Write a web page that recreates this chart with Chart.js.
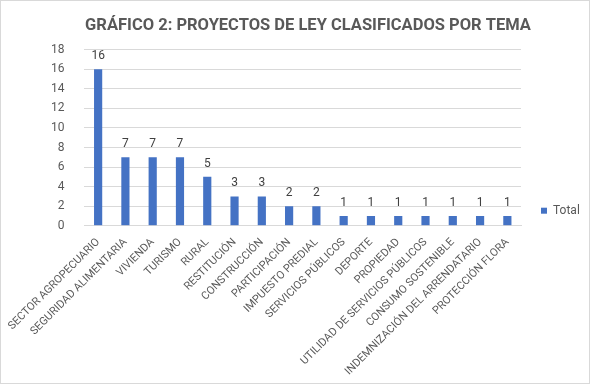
<!DOCTYPE html>
<html>
<head>
<meta charset="utf-8">
<script src="https://cdn.jsdelivr.net/npm/chart.js@4.4.0/dist/chart.umd.min.js"></script>
<style>
  html, body { margin: 0; padding: 0; background: #fff; }
  #box { width: 590px; height: 384px; box-sizing: border-box; border: 1px solid #d9d9d9; position: relative; }
</style>
</head>
<body>
<div id="box"><canvas id="myChart"></canvas></div>
<script>
const categories = [
  "SECTOR AGROPECUARIO", "SEGURIDAD ALIMENTARIA", "VIVIENDA", "TURISMO", "RURAL",
  "RESTITUCIÓN", "CONSTRUCCIÓN", "PARTICIPACIÓN", "IMPUESTO PREDIAL", "SERVICIOS PÚBLICOS",
  "DEPORTE", "PROPIEDAD", "UTILIDAD DE SERVICIOS PÚBLICOS", "CONSUMO SOSTENIBLE",
  "INDEMNIZACIÓN DEL ARRENDATARIO", "PROTECCIÓN FLORA"
];
const totals = [16, 7, 7, 7, 5, 3, 3, 2, 2, 1, 1, 1, 1, 1, 1, 1];
const yTicks = [0, 2, 4, 6, 8, 10, 12, 14, 16, 18];

const FONT = "Roboto, sans-serif";

// value labels above each bar
const barValues = {
  id: 'barValues',
  afterDatasetsDraw(chart) {
    const ctx = chart.ctx;
    const meta = chart.getDatasetMeta(0);
    ctx.save();
    ctx.font = "12px " + FONT;
    ctx.fillStyle = "#404040";
    ctx.textAlign = "center";
    ctx.textBaseline = "bottom";
    meta.data.forEach((bar, i) => {
      ctx.fillText(totals[i], bar.x, bar.y - 7);
    });
    ctx.restore();
  }
};

const ctx = document.getElementById('myChart');
new Chart(ctx, {
  type: 'bar',
  data: {
    labels: categories,
    datasets: [{
      label: 'Total',
      data: totals,
      backgroundColor: '#4472c4',
      categoryPercentage: 1,
      barPercentage: 0.3
    }]
  },
  options: {
    responsive: true,
    maintainAspectRatio: false,
    animation: false,
    layout: { padding: { left: 30, right: 4, top: 0, bottom: 3 } },
    plugins: {
      title: {
        display: true,
        text: 'GRÁFICO 2: PROYECTOS DE LEY CLASIFICADOS POR TEMA',
        color: '#595959',
        font: { family: FONT, size: 16.5, weight: 'bold' },
        padding: { top: 15, bottom: 14 }
      },
      legend: {
        position: 'right',
        align: 'center',
        maxWidth: 64,
        title: { display: true, text: '', padding: 13, font: { size: 12 } },
        labels: {
          boxWidth: 6, boxHeight: 6,
          color: '#595959',
          font: { family: FONT, size: 12 },
          padding: 20
        }
      },
      tooltip: { enabled: false }
    },
    scales: {
      x: {
        grid: { display: false },
        border: { color: '#d9d9d9' },
        ticks: {
          color: '#595959',
          font: { family: FONT, size: 11 },
          minRotation: 45, maxRotation: 45,
          autoSkip: false,
          padding: 2
        }
      },
      y: {
        min: 0, max: 18,
        afterBuildTicks(axis) { axis.ticks = yTicks.map(v => ({ value: v })); },
        grid: { color: '#d9d9d9', drawTicks: false },
        border: { display: false },
        ticks: {
          color: '#595959',
          font: { family: FONT, size: 12 },
          padding: 20
        }
      }
    }
  },
  plugins: [barValues]
});
</script>
</body>
</html>
